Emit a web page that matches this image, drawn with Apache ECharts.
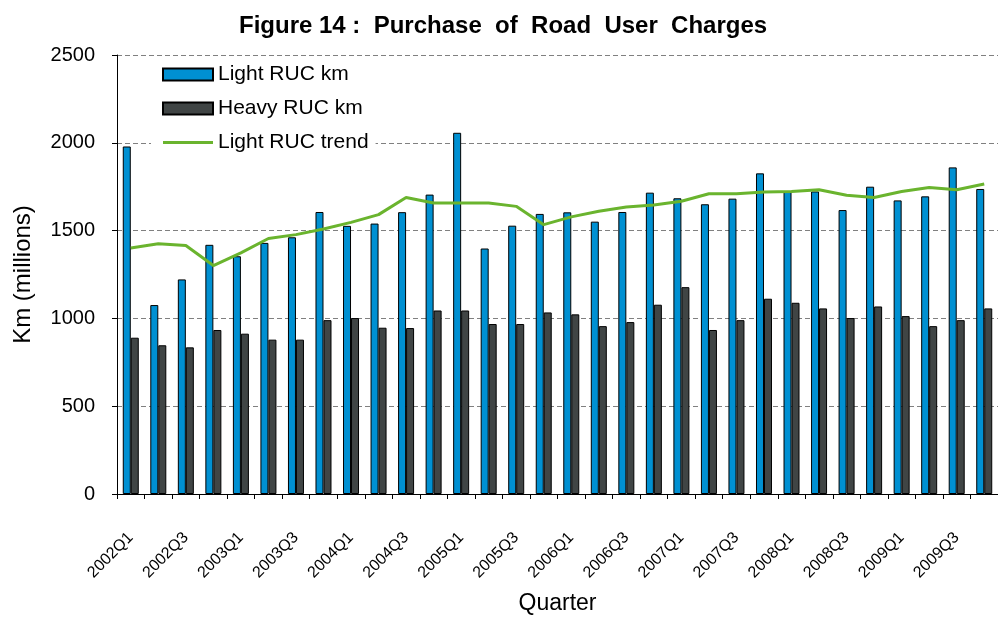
<!DOCTYPE html>
<html>
<head>
<meta charset="utf-8">
<script src="https://cdn.jsdelivr.net/npm/echarts@6/dist/echarts.min.js"></script>
<style>
  html, body { margin: 0; padding: 0; background: #ffffff; }
  #chart { width: 998px; height: 620px; }
</style>
</head>
<body>
<div id="chart"></div>
<script>
const QUARTERS = [
  "2002Q1", "2002Q2", "2002Q3", "2002Q4",
  "2003Q1", "2003Q2", "2003Q3", "2003Q4",
  "2004Q1", "2004Q2", "2004Q3", "2004Q4",
  "2005Q1", "2005Q2", "2005Q3", "2005Q4",
  "2006Q1", "2006Q2", "2006Q3", "2006Q4",
  "2007Q1", "2007Q2", "2007Q3", "2007Q4",
  "2008Q1", "2008Q2", "2008Q3", "2008Q4",
  "2009Q1", "2009Q2", "2009Q3", "2009Q4",
];

const LIGHT_RUC_KM = [
  1979, 1076, 1222, 1419, 1354, 1430, 1462, 1606,
  1527, 1540, 1605, 1705, 2057, 1398, 1528, 1595,
  1604, 1551, 1606, 1716, 1684, 1650, 1682, 1826,
  1723, 1723, 1617, 1750, 1672, 1695, 1860, 1737,
];

const HEAVY_RUC_KM = [
  890, 847, 835, 934, 913, 879, 879, 990,
  1002, 947, 945, 1045, 1045, 968, 968, 1034,
  1023, 956, 979, 1078, 1178, 934, 990, 1112,
  1089, 1057, 1002, 1068, 1013, 956, 990, 1057,
];

const LIGHT_RUC_TREND = [
  1401, 1425, 1415, 1301, 1373, 1455, 1477, 1509,
  1547, 1591, 1689, 1657, 1657, 1657, 1638, 1534,
  1578, 1610, 1634, 1646, 1667, 1710, 1710, 1720,
  1722, 1733, 1701, 1689, 1723, 1746, 1733, 1765,
];

const COLORS = {
  light: "#0090D2",
  heavy: "#404545",
  trend: "#6AB42E",
};

const FONT = "'Liberation Sans', Arial, sans-serif";

const chart = echarts.init(document.getElementById("chart"), null, { renderer: "canvas" });

chart.setOption({
  backgroundColor: "#ffffff",
  animation: false,
  title: {
    text: "Figure 14 :  Purchase  of  Road  User  Charges",
    left: 234,
    top: 9,
    textStyle: { fontFamily: FONT, fontSize: 24, fontWeight: "bold", color: "#000" },
  },
  grid: {
    left: 117,
    top: 55,
    width: 886,
    height: 440,
    containLabel: false,
  },
  legend: {
    orient: "vertical",
    left: 151,
    top: 60,
    padding: [4, 7, 4, 11],
    backgroundColor: "#ffffff",
    itemWidth: 50,
    itemHeight: 12,
    itemGap: 13,
    textStyle: { fontFamily: FONT, fontSize: 21, color: "#000" },
    data: [
      { name: "Light RUC km", icon: "rect" },
      { name: "Heavy RUC km", icon: "rect" },
      { name: "Light RUC trend", icon: "path://M0,0 L50,0 L50,3 L0,3 Z" },
    ],
  },
  xAxis: {
    type: "category",
    data: QUARTERS,
    boundaryGap: true,
    name: "Quarter",
    nameLocation: "middle",
    nameGap: 98,
    nameTextStyle: { fontFamily: FONT, fontSize: 23, color: "#000" },
    axisLine: { lineStyle: { color: "#000", width: 1 } },
    axisTick: { show: true, interval: 0, length: 5, lineStyle: { color: "#000" } },
    axisLabel: {
      interval: 1,
      rotate: 45,
      margin: 41,
      fontFamily: FONT,
      fontSize: 16,
      color: "#000",
    },
  },
  yAxis: {
    type: "value",
    min: 0,
    max: 2500,
    interval: 500,
    name: "Km (millions)",
    nameLocation: "middle",
    nameGap: 82,
    nameTextStyle: { fontFamily: FONT, fontSize: 24, color: "#000" },
    axisLine: { show: true, lineStyle: { color: "#000", width: 1 } },
    axisTick: { show: true, length: 5, lineStyle: { color: "#000" } },
    axisLabel: {
      fontFamily: FONT,
      fontSize: 20,
      color: "#000",
      margin: 22,
      formatter: (value) => String(value),
    },
    splitLine: { lineStyle: { color: "#808080", type: [5, 3], width: 1 } },
  },
  series: [
    {
      name: "Light RUC km",
      type: "bar",
      data: LIGHT_RUC_KM,
      barWidth: 8,
      barGap: "0%",
      itemStyle: { color: COLORS.light, borderColor: "#000", borderWidth: 1 },
    },
    {
      name: "Heavy RUC km",
      type: "bar",
      data: HEAVY_RUC_KM,
      barWidth: 8,
      barGap: "0%",
      itemStyle: { color: COLORS.heavy, borderColor: "#000", borderWidth: 1 },
    },
    {
      name: "Light RUC trend",
      type: "line",
      data: LIGHT_RUC_TREND,
      symbol: "none",
      z: 5,
      lineStyle: { color: COLORS.trend, width: 3 },
      itemStyle: { color: COLORS.trend },
    },
  ],
});
</script>
</body>
</html>
